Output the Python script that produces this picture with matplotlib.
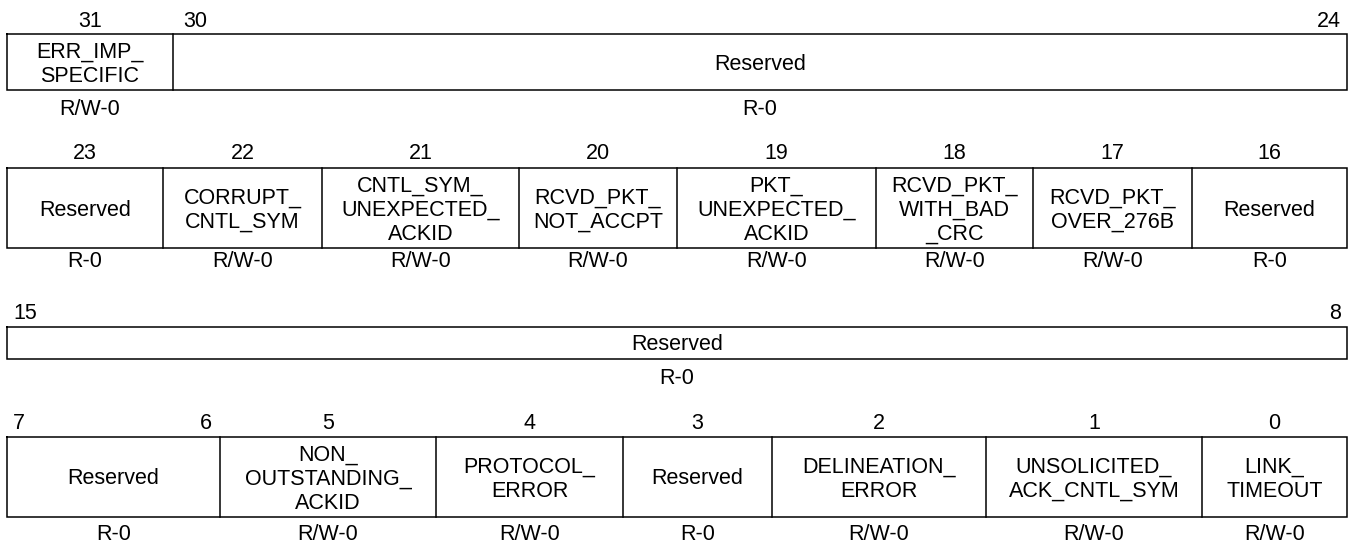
import matplotlib
matplotlib.use("Agg")
import matplotlib.pyplot as plt

plt.rcParams['font.family'] = ['Liberation Sans', 'DejaVu Sans']

# ---- register data ----
row1_bits = [(31, 31), (30, 24)]
row1_names = ["ERR_IMP_\nSPECIFIC", "Reserved"]
row1_access = ["R/W-0", "R-0"]

row2_bits = [(23, 23), (22, 22), (21, 21), (20, 20), (19, 19), (18, 18), (17, 17), (16, 16)]
row2_names = ["Reserved", "CORRUPT_\nCNTL_SYM", "CNTL_SYM_\nUNEXPECTED_\nACKID",
              "RCVD_PKT_\nNOT_ACCPT", "PKT_\nUNEXPECTED_\nACKID",
              "RCVD_PKT_\nWITH_BAD\n_CRC", "RCVD_PKT_\nOVER_276B", "Reserved"]
row2_access = ["R-0", "R/W-0", "R/W-0", "R/W-0", "R/W-0", "R/W-0", "R/W-0", "R-0"]

row3_bits = [(15, 8)]
row3_names = ["Reserved"]
row3_access = ["R-0"]

row4_bits = [(7, 6), (5, 5), (4, 4), (3, 3), (2, 2), (1, 1), (0, 0)]
row4_names = ["Reserved", "NON_\nOUTSTANDING_\nACKID", "PROTOCOL_\nERROR", "Reserved",
              "DELINEATION_\nERROR", "UNSOLICITED_\nACK_CNTL_SYM", "LINK_\nTIMEOUT"]
row4_access = ["R-0", "R/W-0", "R/W-0", "R-0", "R/W-0", "R/W-0", "R/W-0"]

# ---- layout (pixels) ----
W, H = 1349, 548
row_edges = [
    [7, 173, 1347],
    [7, 163, 322, 519, 677, 876, 1033, 1192, 1347],
    [7, 1347],
    [7, 220, 436, 623, 772, 986, 1202, 1347],
]
row_box_y = [(34, 90), (168, 248), (327, 359), (437, 517)]
row_bit_y = [21.5, 153.5, 313.5, 423.5]
row_acc_y = [109.5, 261.5, 378.5, 534.5]
name_dy = 2.0
pad_hi = [10, 6, 6, 6]
pad_lo = [6, 6, 6, 8]

FS = 15.5
LW = 1.1

fig = plt.figure(figsize=(W / 100, H / 100), dpi=100)
ax = fig.add_axes([0, 0, 1, 1])
ax.set_xlim(0, W)
ax.set_ylim(H, 0)
ax.axis('off')

rows = [
    (row1_bits, row1_names, row1_access),
    (row2_bits, row2_names, row2_access),
    (row3_bits, row3_names, row3_access),
    (row4_bits, row4_names, row4_access),
]

for r, (bits, names, access) in enumerate(rows):
    edges = row_edges[r]
    y0, y1 = row_box_y[r]
    # box outline
    ax.plot([edges[0], edges[-1], edges[-1], edges[0], edges[0]],
            [y0, y0, y1, y1, y0], color='black', lw=LW, solid_joinstyle='miter')
    for xe in edges[1:-1]:
        ax.plot([xe, xe], [y0, y1], color='black', lw=LW)
    for i, ((hi, lo), name, acc) in enumerate(zip(bits, names, access)):
        xl, xr = edges[i], edges[i + 1]
        xc = (xl + xr) / 2
        if hi == lo:
            ax.text(xc, row_bit_y[r], str(hi), ha='center', va='center', fontsize=FS)
        else:
            ax.text(xl + pad_hi[r], row_bit_y[r], str(hi), ha='left', va='center', fontsize=FS)
            ax.text(xr - pad_lo[r], row_bit_y[r], str(lo), ha='right', va='center', fontsize=FS)
        ax.text(xc, (y0 + y1) / 2 + name_dy, name, ha='center', va='center', fontsize=FS,
                linespacing=1.2, multialignment='center')
        ax.text(xc, row_acc_y[r], acc, ha='center', va='center', fontsize=FS)

fig.savefig("out.png", dpi=100)
